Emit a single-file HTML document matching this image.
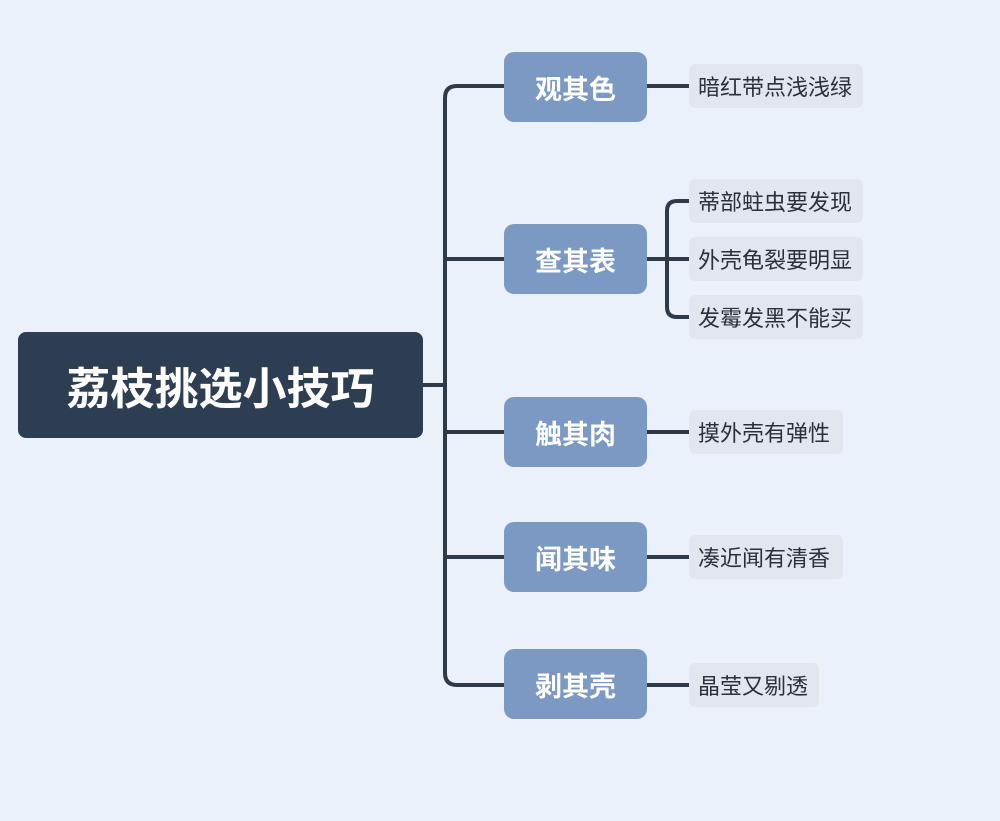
<!DOCTYPE html>
<html><head><meta charset="utf-8"><style>
body{margin:0;width:1000px;height:821px;background:#ebf1fa;position:relative;overflow:hidden;font-family:"Liberation Sans","Noto Sans CJK SC",sans-serif}
.r{position:absolute;left:18px;top:332px;width:405px;height:106px;background:#2e3e52;border-radius:8px;color:#fff;font-size:44px;font-weight:bold;display:flex;align-items:center;justify-content:center}
.m{position:absolute;left:504px;width:143px;height:70px;background:#7c99c3;border-radius:10px;color:#fff;font-size:27px;font-weight:bold;display:flex;align-items:center;justify-content:center}
.l{position:absolute;left:689px;height:44px;background:#e2e7ee;border-radius:6px;color:#2b2f36;font-size:22px;display:flex;align-items:center;padding:0 9px;box-sizing:border-box;white-space:nowrap}
</style></head><body>
<svg width="1000" height="821" style="position:absolute;left:0;top:0" fill="none" stroke="#2e3a48" stroke-width="4">
<path d="M423 385 H445"/>
<path d="M504 86 H457 Q445 86 445 98 V673 Q445 685 457 685 H504"/>
<path d="M445 259 H504 M445 432 H504 M445 557 H504"/>
<path d="M647 86 H689 M647 432 H689 M647 557 H689 M647 685 H689"/>
<path d="M647 259 H689 M689 201 H677 Q667 201 667 211 V307 Q667 317 677 317 H689"/>
</svg>
<div class="r">荔枝挑选小技巧</div>
<div class="m" style="top:52px">观其色</div>
<div class="m" style="top:224px">查其表</div>
<div class="m" style="top:397px">触其肉</div>
<div class="m" style="top:522px">闻其味</div>
<div class="m" style="top:649px">剥其壳</div>
<div class="l" style="top:64px;width:174px">暗红带点浅浅绿</div>
<div class="l" style="top:179px;width:174px">蒂部蛀虫要发现</div>
<div class="l" style="top:237px;width:174px">外壳龟裂要明显</div>
<div class="l" style="top:295px;width:174px">发霉发黑不能买</div>
<div class="l" style="top:410px;width:154px">摸外壳有弹性</div>
<div class="l" style="top:535px;width:154px">凑近闻有清香</div>
<div class="l" style="top:663px;width:130px">晶莹又剔透</div>
</body></html>
